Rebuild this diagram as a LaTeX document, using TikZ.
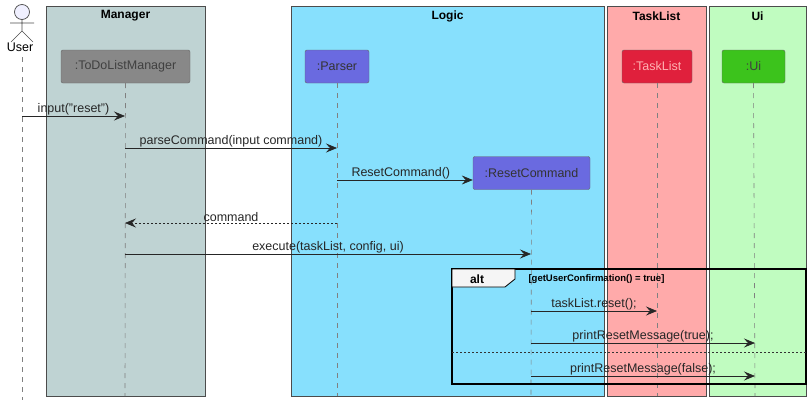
\documentclass[tikz,border=0pt]{standalone}
\usepackage{fontspec}
\setmainfont{Liberation Sans}
\usetikzlibrary{arrows.meta}
\definecolor{mgr}{HTML}{BFD3D3}
\definecolor{lgc}{HTML}{87E0FD}
\definecolor{tlc}{HTML}{FFAAAA}
\definecolor{uic}{HTML}{C0FCC0}
\definecolor{tdm}{HTML}{888888}
\definecolor{prs}{HTML}{6A6AE0}
\definecolor{tlb}{HTML}{E0203C}
\definecolor{uib}{HTML}{3CC31C}
\begin{document}
\begin{tikzpicture}[x=1pt,y=-1pt,font=\fontsize{12.5}{14}\selectfont,
 grp/.style={draw=black!70,line width=0.6pt},
 part/.style={draw=black!60,rounded corners=2pt,minimum height=33pt,inner xsep=5pt},
 life/.style={draw=black!50,dashed,dash pattern=on 5pt off 5pt,line width=0.6pt},
 msg/.style={-{Stealth[length=11pt,width=9pt,inset=4pt]},line width=0.7pt,black!85},
 ret/.style={msg,dashed,dash pattern=on 2pt off 2pt},
 lbl/.style={above,inner sep=1pt}]
\useasboundingbox (0,0) rectangle (812,407);
% groups
\draw[grp,fill=mgr] (46,6) rectangle (205,396);
\draw[grp,fill=lgc] (291,6) rectangle (604,396);
\draw[grp,fill=tlc] (607,6) rectangle (706,396);
\draw[grp,fill=uic] (709,6) rectangle (806,396);
\node[font=\fontsize{12}{13}\selectfont\bfseries] (gm) at (125.5,16) {Manager};
\node[font=\fontsize{12}{13}\selectfont\bfseries] (gl) at (447.5,16) {Logic};
\node[font=\fontsize{12}{13}\selectfont\bfseries] (gt) at (656.5,16) {TaskList};
\node[font=\fontsize{12}{13}\selectfont\bfseries] (gu) at (757.5,16) {Ui};
% actor
\draw[black!70,fill=blue!6,line width=0.7pt] (22,12) circle (7.5);
\draw[black!70,line width=0.7pt] (22,19.5) -- (22,31) (10,23) -- (34,23) (22,31) -- (11,42) (22,31) -- (33,42);
\node (uname) at (20,47) {User};
\coordinate (ut) at (22,57); \coordinate (ub) at (22,400);
\draw[life] (ut) -- (ub);
% participants
\node[part,fill=tdm,text=black!75,minimum width=129pt] (tdl) at (125.5,66.5) {:ToDoListManager};
\node[part,fill=prs,text=black!80,minimum width=64pt] (prs) at (337,66.5) {:Parser};
\node[part,fill=tlb,text=red!30!white,minimum width=70pt] (tlt) at (657,66.5) {:TaskList};
\node[part,fill=uib,text=black!75,minimum width=63pt] (uip) at (753.5,66.5) {:Ui};
\node[part,fill=prs,text=black!80,minimum width=117pt] (rc) at (531.5,173) {:ResetCommand};
\coordinate (tdlb) at (125,396); \coordinate (prsb) at (337,396);
\coordinate (tltb) at (657,396); \coordinate (uipb) at (755,396);
\coordinate (rcb) at (531,396);
\draw[life] (tdl.south) -- (tdlb);
\draw[life] (prs.south) -- (prsb);
\draw[life] (tlt.south) -- (tltb);
\draw[life] (uip.south) -- (uipb);
\draw[life] (rc.south) -- (rcb);
% message anchors
\coordinate (u1) at (22,116); \coordinate (m1) at (125,116);
\coordinate (m2) at (125,148); \coordinate (p2) at (337,148);
\coordinate (p3) at (337,180);
\coordinate (p4) at (337,223); \coordinate (m4) at (125,223);
\coordinate (m5) at (125,254); \coordinate (r5) at (531,254);
\coordinate (r6) at (531,311); \coordinate (t6) at (657,311);
\coordinate (r7) at (531,343); \coordinate (i7) at (755,343);
\coordinate (r8) at (531,376); \coordinate (i8) at (755,376);
\draw[msg] (u1) -- node[lbl,pos=0.5] {input("reset")} (m1);
\draw[msg] (m2) -- node[lbl,pos=0.5] {parseCommand(input command)} (p2);
\draw[msg] (p3) -- node[lbl,pos=0.47] {ResetCommand()} (rc.west|-p3);
\draw[ret] (p4) -- node[lbl,pos=0.5] {command} (m4);
\draw[msg] (m5) -- node[lbl,pos=0.5] {execute(taskList, config, ui)} (r5);
% alt frame
\draw[line width=1.5pt] (452,269) rectangle (806,384);
\draw[fill=black!4,line width=0.8pt] (452,269) -- (515,269) -- (515,279) -- (505,287) -- (452,287) -- cycle;
\node[font=\fontsize{12}{13}\selectfont\bfseries] (altl) at (477,279) {alt};
\node[font=\fontsize{9.5}{10}\selectfont\bfseries,anchor=west] (grd) at (525,279) {[getUserConfirmation() = true]};
\coordinate (s1) at (452,352); \coordinate (s2) at (806,352);
\draw[black!80,dash pattern=on 2pt off 2pt,line width=0.7pt] (s1) -- (s2);
\draw[msg] (r6) -- node[lbl,pos=0.5] {taskList.reset();} (t6);
\draw[msg] (r7) -- node[lbl,pos=0.5] {printResetMessage(true);} (i7);
\draw[msg] (r8) -- node[lbl,pos=0.5] {printResetMessage(false);} (i8);
\end{tikzpicture}
\end{document}
